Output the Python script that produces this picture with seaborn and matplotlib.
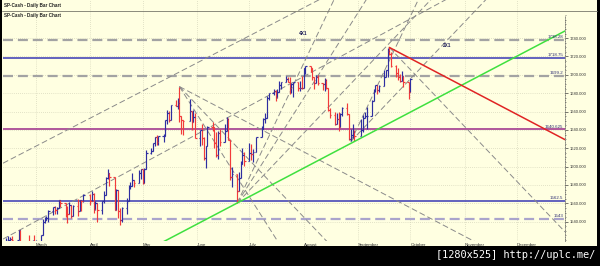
import numpy as np
import pandas as pd
import matplotlib
matplotlib.use("Agg")
import matplotlib.pyplot as plt
import matplotlib.dates as mdates
from matplotlib.lines import Line2D
from matplotlib.patches import Rectangle
import seaborn as sns

sns.set_style("white")
plt.rcParams["font.family"] = ["Liberation Sans", "DejaVu Sans"]

# ---------------- data ----------------
holidays = ["2013-02-18", "2013-03-29", "2013-05-27", "2013-07-04", "2013-09-02"]
dates = [d for d in pd.bdate_range("2013-02-11", "2013-10-01") if d.strftime("%Y-%m-%d") not in holidays]

opens = [1517.9, 1517.0, 1519.4, 1520.3, 1521.4, 1519.8, 1530.9, 1512.0, 1502.4, 1515.6, 1487.9, 1496.9, 1516.0,
         1514.7, 1518.2, 1525.2, 1539.8, 1541.5, 1544.3, 1551.2, 1556.2, 1552.5, 1554.5, 1563.2, 1560.7, 1552.1, 1548.3,
         1558.7, 1545.8, 1556.9, 1551.7, 1563.8, 1562.9,
         1569.2, 1562.2, 1570.3, 1553.7, 1560.0, 1553.3, 1563.1, 1568.6, 1587.7, 1593.4, 1588.9, 1552.4, 1574.6, 1552.0,
         1541.6, 1555.3, 1562.5, 1578.8, 1578.8, 1585.2, 1582.2, 1593.6,
         1597.6, 1582.7, 1597.6, 1614.4, 1617.5, 1626.0, 1632.7, 1626.7, 1633.7, 1633.8, 1650.3, 1658.8, 1650.5, 1667.5,
         1666.3, 1669.2, 1655.4, 1650.5, 1649.6, 1660.1, 1648.4, 1654.4,
         1630.7, 1640.4, 1631.4, 1608.9, 1622.6, 1643.4, 1642.8, 1626.1, 1612.5, 1636.4, 1626.7, 1639.0, 1651.8, 1628.9,
         1588.2, 1592.4, 1573.1, 1588.0, 1603.3, 1613.2,
         1606.3, 1615.0, 1614.1, 1615.4, 1631.9, 1640.5, 1652.3, 1652.6, 1675.0, 1680.2, 1682.5, 1676.3, 1680.9, 1689.4,
         1692.1, 1695.5, 1692.4, 1685.9, 1690.3, 1691.7, 1685.3, 1686.0,
         1685.7, 1706.9, 1709.7, 1707.1, 1697.4, 1690.9, 1697.5, 1691.4, 1689.5, 1694.2, 1685.4, 1661.3, 1655.8, 1646.1,
         1652.4, 1642.8, 1657.0, 1663.5, 1656.8, 1630.5, 1635.0, 1638.2,
         1633.0, 1639.8, 1653.1, 1655.1, 1655.2, 1671.7, 1684.0, 1689.1, 1683.4, 1688.0, 1697.6, 1704.8, 1725.5, 1722.3,
         1709.9, 1701.8, 1697.4, 1692.8, 1698.7, 1691.8,
         1681.6]
highs = [1518.3, 1522.3, 1524.7, 1523.1, 1524.2, 1530.9, 1530.9, 1512.0, 1515.6, 1525.8, 1498.9, 1520.1, 1525.3,
         1519.9, 1525.3, 1543.5, 1545.3, 1545.8, 1552.5, 1556.3, 1556.8, 1556.4, 1563.3, 1563.6, 1560.7, 1557.3, 1561.6,
         1558.7, 1557.7, 1564.9, 1563.9, 1564.1, 1570.3,
         1570.6, 1573.7, 1571.5, 1562.6, 1560.0, 1563.1, 1573.9, 1589.1, 1597.4, 1593.4, 1588.9, 1575.4, 1574.6, 1554.4,
         1555.9, 1565.6, 1579.6, 1583.0, 1592.6, 1585.8, 1596.7, 1597.6,
         1597.6, 1598.6, 1618.5, 1619.8, 1626.0, 1632.8, 1635.0, 1633.7, 1636.0, 1651.1, 1661.5, 1660.5, 1667.5, 1672.8,
         1674.9, 1687.2, 1655.4, 1650.5, 1674.2, 1660.1, 1661.9, 1658.0,
         1640.4, 1646.5, 1632.0, 1622.6, 1644.4, 1648.7, 1642.8, 1637.7, 1639.3, 1640.8, 1646.5, 1654.2, 1652.5, 1628.9,
         1599.2, 1592.4, 1593.8, 1605.9, 1620.1, 1615.9,
         1626.1, 1624.3, 1618.7, 1632.1, 1644.1, 1652.9, 1657.9, 1676.6, 1680.2, 1684.5, 1683.7, 1684.8, 1693.1, 1692.1,
         1698.4, 1698.0, 1697.8, 1690.9, 1691.7, 1691.7, 1693.2, 1698.4,
         1707.8, 1709.7, 1709.7, 1707.1, 1697.4, 1700.2, 1699.4, 1691.5, 1696.8, 1695.0, 1685.4, 1663.6, 1659.6, 1658.9,
         1659.2, 1657.9, 1664.8, 1669.5, 1656.8, 1641.2, 1646.4, 1640.1,
         1651.4, 1655.7, 1659.1, 1664.8, 1672.4, 1684.1, 1689.1, 1689.1, 1689.0, 1704.9, 1705.5, 1729.4, 1729.9, 1725.2,
         1711.2, 1707.6, 1701.3, 1703.9, 1698.7, 1691.8,
         1696.6]
lows = [1513.6, 1515.6, 1515.6, 1514.0, 1514.1, 1519.8, 1511.4, 1497.3, 1502.4, 1487.9, 1485.0, 1494.9, 1514.5,
        1501.5, 1512.3, 1525.2, 1538.1, 1541.5, 1539.9, 1547.4, 1548.2, 1548.3, 1554.5, 1555.7, 1545.1, 1538.6, 1548.3,
        1543.6, 1545.8, 1546.2, 1551.7, 1551.9, 1561.1,
        1558.5, 1562.2, 1549.8, 1552.5, 1539.5, 1548.6, 1560.9, 1568.6, 1586.2, 1579.0, 1552.3, 1552.4, 1543.7, 1536.0,
        1539.4, 1548.2, 1562.5, 1575.8, 1578.8, 1577.6, 1582.2, 1586.5,
        1581.3, 1582.7, 1597.6, 1614.2, 1616.6, 1622.7, 1623.1, 1623.7, 1626.7, 1633.8, 1646.7, 1648.6, 1650.5, 1666.1,
        1662.7, 1648.9, 1635.5, 1634.6, 1649.6, 1639.8, 1648.4, 1630.7,
        1622.7, 1623.6, 1606.9, 1598.2, 1622.6, 1639.3, 1620.1, 1610.9, 1608.1, 1622.7, 1626.7, 1639.0, 1628.9, 1585.6,
        1577.7, 1560.3, 1573.1, 1588.0, 1603.3, 1601.1,
        1606.3, 1606.8, 1604.6, 1615.4, 1631.9, 1640.5, 1647.7, 1652.6, 1672.3, 1677.9, 1671.8, 1675.0, 1680.9, 1684.1,
        1692.1, 1691.9, 1679.0, 1680.0, 1676.0, 1681.9, 1682.2, 1684.9,
        1685.7, 1700.7, 1703.6, 1693.9, 1684.8, 1690.9, 1688.4, 1683.4, 1682.2, 1684.9, 1660.5, 1652.6, 1645.8, 1646.1,
        1638.9, 1642.8, 1654.8, 1656.0, 1629.1, 1627.5, 1630.9, 1628.0,
        1633.0, 1637.4, 1653.1, 1640.6, 1655.2, 1671.7, 1681.0, 1678.9, 1681.0, 1688.0, 1697.6, 1697.5, 1721.1, 1708.9,
        1697.1, 1694.9, 1691.9, 1692.8, 1687.1, 1674.2,
        1681.6]
closes = [1517.0, 1519.4, 1520.3, 1521.4, 1519.8, 1530.9, 1512.0, 1502.4, 1515.6, 1487.9, 1496.9, 1516.0, 1514.7,
          1518.2, 1525.2, 1539.8, 1541.5, 1544.3, 1551.2, 1556.2, 1552.5, 1554.5, 1563.2, 1560.7, 1552.1, 1548.3, 1558.7,
          1545.8, 1556.9, 1551.7, 1563.8, 1562.9, 1569.2,
          1562.2, 1570.3, 1553.7, 1560.0, 1553.3, 1563.1, 1568.6, 1587.7, 1593.4, 1588.9, 1552.4, 1574.6, 1552.0, 1541.6,
          1555.3, 1562.5, 1578.8, 1578.8, 1585.2, 1582.2, 1593.6, 1597.6,
          1582.7, 1597.6, 1614.4, 1617.5, 1626.0, 1632.7, 1626.7, 1633.7, 1633.8, 1650.3, 1658.8, 1650.5, 1667.5, 1666.3,
          1669.2, 1655.4, 1650.5, 1649.6, 1660.1, 1648.4, 1654.4, 1630.7,
          1640.4, 1631.4, 1608.9, 1622.6, 1643.4, 1642.8, 1626.1, 1612.5, 1636.4, 1626.7, 1639.0, 1651.8, 1628.9, 1588.2,
          1592.4, 1573.1, 1588.0, 1603.3, 1613.2, 1606.3,
          1615.0, 1614.1, 1615.4, 1631.9, 1640.5, 1652.3, 1652.6, 1675.0, 1680.2, 1682.5, 1676.3, 1680.9, 1689.4, 1692.1,
          1695.5, 1692.4, 1685.9, 1690.3, 1691.7, 1685.3, 1686.0, 1685.7,
          1706.9, 1709.7, 1707.1, 1697.4, 1690.9, 1697.5, 1691.4, 1689.5, 1694.2, 1685.4, 1661.3, 1655.8, 1646.1, 1652.4,
          1642.8, 1657.0, 1663.5, 1656.8, 1630.5, 1635.0, 1638.2, 1633.0,
          1639.8, 1653.1, 1655.1, 1655.2, 1671.7, 1684.0, 1689.1, 1683.4, 1688.0, 1697.6, 1704.8, 1725.5, 1722.3, 1709.9,
          1701.8, 1697.4, 1692.8, 1698.7, 1691.8, 1681.6,
          1695.0]

# horizontal levels
levels = [1738.28, 1718.75, 1699.2, 1640.625, 1562.5, 1543]
level_labels = ["1738.28", "1718.75", "1699.2", "1640.625", "1562.5", "1543"]
level_colors = ["#a3a3a3", "#3838b4", "#a3a3a3", "#9a2a88", "#3838b4", "#aaa4cc"]
level_dashed = [True, False, True, False, False, True]

# Gann fan anchors (date, price) and slopes in points per calendar day
anchor_dates = ["2013-05-22", "2013-06-24", "2013-08-28", "2013-09-19"]
anchor_prices = [1687.18, 1560.33, 1627.47, 1729.86]
fan_slopes = [[-1, -2, -3], [2, 3, 4], [2, 4], [-2]]
# channel lines: (date, price, slope)
channel_dates = ["2013-02-10", "2013-02-11"]
channel_prices = [1603.6, 1522.0]
channel_slopes = [0.985, 1.03]

months = ["March", "April", "May", "June", "July", "August", "September", "October", "November", "December"]
month_starts = ["2013-03-01", "2013-04-01", "2013-05-01", "2013-06-01", "2013-07-01", "2013-08-01",
                "2013-09-01", "2013-10-01", "2013-11-01", "2013-12-01"]
yticks = [1540, 1560, 1580, 1600, 1620, 1640, 1660, 1680, 1700, 1720, 1740]

# ---------------- figure ----------------
W, H = 600, 266
fig = plt.figure(figsize=(6, 2.66), dpi=100, facecolor="black")
bg = "#ffffe1"
fig.patches.append(Rectangle((2 / W, 1 - 246 / H), 595 / W, 246 / H, transform=fig.transFigure,
                             facecolor=bg, edgecolor="none", zorder=-10))
ax = fig.add_axes([3 / W, 1 - 241 / H, 562 / W, 241 / H])
ax.set_zorder(5)
ax.set_facecolor(bg)

x = mdates.date2num(pd.to_datetime(dates))
mar1 = mdates.date2num(pd.Timestamp("2013-03-01"))
xmin, xmax = mar1 - 18.87, mar1 + 302.46
ymin, ymax = 1519.0, 1781.5

op, hi, lo, cl = map(np.array, (opens, highs, lows, closes))
up = cl >= op
cols = np.where(up, "#2e2ea0", "#f23a3a")
ax.vlines(x, lo, hi, colors=cols, linewidth=0.85, zorder=4)
ax.hlines(op, x - 0.8, x, colors=cols, linewidth=0.85, zorder=4)
ax.hlines(cl, x, x + 0.8, colors=cols, linewidth=0.85, zorder=4)

gray = "#8a8a8a"
dash_thin = (0, (6, 3))

def seg(x0, p0, s, x_start, x_end, **kw):
    xs = [x_start, x_end]
    ys = [p0 + s * (x_start - x0), p0 + s * (x_end - x0)]
    sns.lineplot(x=xs, y=ys, ax=ax, **kw)

# channel lines (full width)
for d, p, s in zip(channel_dates, channel_prices, channel_slopes):
    x0 = mdates.date2num(pd.Timestamp(d))
    seg(x0, p, s, xmin, xmax, color=gray, linewidth=0.7, linestyle=dash_thin, zorder=3)

# fans
for d, p, slopes in zip(anchor_dates, anchor_prices, fan_slopes):
    x0 = mdates.date2num(pd.Timestamp(d))
    for s in slopes:
        seg(x0, p, s, x0, xmax, color=gray, linewidth=0.7, linestyle=dash_thin, zorder=3)

# green 1x1 from June low (both directions), red 1x1 down from Sept high
xj = mdates.date2num(pd.Timestamp(anchor_dates[1]))
seg(xj, anchor_prices[1], 1.0, xmin, xmax, color="#3fe03f", linewidth=1.1, zorder=5)
xs_ = mdates.date2num(pd.Timestamp(anchor_dates[3]))
seg(xs_, anchor_prices[3], -1.0, xs_, xmax, color="#e02424", linewidth=1.1, zorder=5)

# levels
for lv, lab, c, dsh in zip(levels, level_labels, level_colors, level_dashed):
    if dsh:
        sns.lineplot(x=[xmin, xmax], y=[lv, lv], ax=ax, color=c, linewidth=1.6,
                     linestyle=(0, (4.5, 2.2)), zorder=2)
    else:
        sns.lineplot(x=[xmin, xmax], y=[lv, lv], ax=ax, color=c, linewidth=1.1, zorder=2)
    ax.text(0.997, lv + 0.8, lab, transform=ax.get_yaxis_transform(), ha="right", va="bottom",
            fontsize=3.2, color="#2a2a70", zorder=6)

# fan labels
ax.text(mdates.date2num(pd.Timestamp("2013-08-01")), 1744.5, "4X1", fontsize=3.4, fontweight="bold",
        color="#20205a", ha="center", va="center", zorder=6)
ax.text(mdates.date2num(pd.Timestamp("2013-10-22")), 1731.4, "2X1", fontsize=3.4, fontweight="bold",
        color="#20205a", ha="center", va="center", zorder=6)

# axes formatting
ax.set_xlim(xmin, xmax)
ax.set_ylim(ymin, ymax)
ax.set_xlabel("")
ax.set_ylabel("")
mx = mdates.date2num(pd.to_datetime(month_starts))
ax.set_xticks(mx)
ax.set_xticklabels(months, fontsize=3.2, color="#303030", ha="left")
ax.tick_params(axis="x", length=0, pad=1.2)
ax.yaxis.tick_right()
ax.set_yticks(yticks)
ax.set_yticklabels([f"{v:.3f}" for v in yticks], fontsize=3.0, color="#303030")
ax.set_yticks(np.arange(1520, 1766, 5), minor=True)
ax.tick_params(axis="y", which="major", length=1.8, width=0.5, pad=1.5, color="#404040", right=True)
ax.tick_params(axis="y", which="minor", length=0.9, width=0.4, color="#404040", right=True)
ax.grid(True, which="major", linestyle=(0, (1, 2)), color="#c9c9ae", linewidth=0.5, zorder=1)
for side in ["left", "top", "bottom"]:
    ax.spines[side].set_visible(False)
ax.spines["right"].set_color("#505050")
ax.spines["right"].set_linewidth(0.5)
ax.spines["right"].set_linestyle((0, (1, 1.5)))
ax.spines["right"].set_bounds(ymin, 1764)
if ax.get_legend() is not None:
    ax.get_legend().remove()

# header
fig.add_artist(Line2D([2 / W, 597 / W], [1 - 11 / H] * 2, color="#77776a", linewidth=0.6, zorder=20))
fig.text(4 / W, 1 - 5 / H, "SP-Cash - Daily Bar Chart", fontsize=3.3, fontweight="bold",
         color="#202020", va="center", ha="left", zorder=20)
fig.text(4 / W, 1 - 16 / H, "SP-Cash - Daily Bar Chart", fontsize=3.3, fontweight="bold",
         color="#202020", va="center", ha="left", zorder=20)

# watermark
fig.text(595 / W, 1 - 255 / H, "[1280x525] http://uplc.me/", fontsize=7.4, color="white",
         family=["DejaVu Sans Mono"], va="center", ha="right", zorder=20)

fig.savefig("out.png", dpi=100, facecolor=fig.get_facecolor())
